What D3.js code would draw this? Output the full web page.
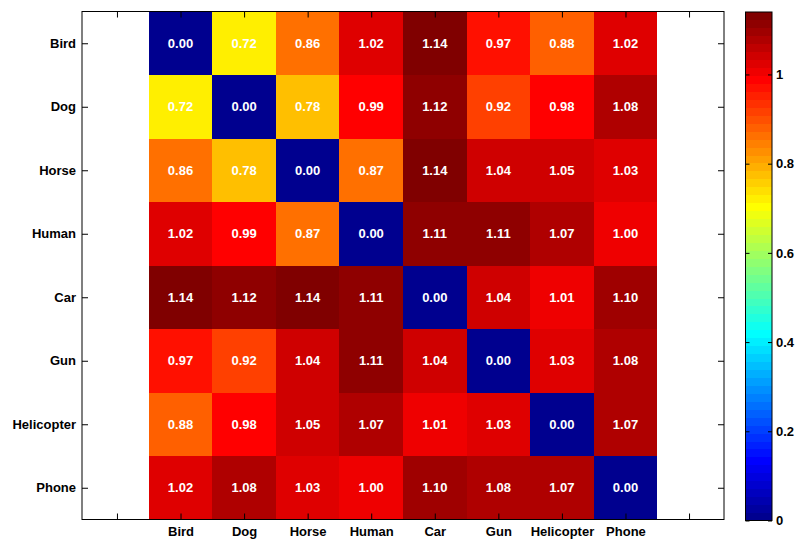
<!DOCTYPE html>
<html>
<head>
<meta charset="utf-8">
<script src="https://cdn.jsdelivr.net/npm/d3@7"></script>
<style>
  html, body { margin: 0; padding: 0; background: #fff; }
  svg { display: block; }
  text { font-family: "Liberation Sans", Arial, sans-serif; font-weight: bold; }
</style>
</head>
<body>
<svg id="chart" width="795" height="540"></svg>
<script>
// Categories (rows and columns share the same order)
const categories = ["Bird", "Dog", "Horse", "Human", "Car", "Gun", "Helicopter", "Phone"];

// Pairwise distance matrix, one array per row
const rowBird       = [0.00, 0.72, 0.86, 1.02, 1.14, 0.97, 0.88, 1.02];
const rowDog        = [0.72, 0.00, 0.78, 0.99, 1.12, 0.92, 0.98, 1.08];
const rowHorse      = [0.86, 0.78, 0.00, 0.87, 1.14, 1.04, 1.05, 1.03];
const rowHuman      = [1.02, 0.99, 0.87, 0.00, 1.11, 1.11, 1.07, 1.00];
const rowCar        = [1.14, 1.12, 1.14, 1.11, 0.00, 1.04, 1.01, 1.10];
const rowGun        = [0.97, 0.92, 1.04, 1.11, 1.04, 0.00, 1.03, 1.08];
const rowHelicopter = [0.88, 0.98, 1.05, 1.07, 1.01, 1.03, 0.00, 1.07];
const rowPhone      = [1.02, 1.08, 1.03, 1.00, 1.10, 1.08, 1.07, 0.00];
const matrix = [rowBird, rowDog, rowHorse, rowHuman, rowCar, rowGun, rowHelicopter, rowPhone];

// Colour limits and colourbar ticks
const colorMin = 0;
const colorMax = 1.14;
const colorbarTicks = [0, 0.2, 0.4, 0.6, 0.8, 1];
const colorbarTickLabels = ["0", "0.2", "0.4", "0.6", "0.8", "1"];

// Axis ticks (positions 0..9, labels only on category positions)
const xTickValues = [0, 1, 2, 3, 4, 5, 6, 7, 8, 9];
const yTickValues = [1, 2, 3, 4, 5, 6, 7, 8];

// 64-step "jet" colormap
function jet(m) {
  const n = Math.ceil(m / 4);
  const u = [];
  for (let k = 1; k <= n; k++) u.push(k / n);
  for (let k = 1; k < n; k++) u.push(1);
  for (let k = n; k >= 1; k--) u.push(k / n);
  const shift = Math.ceil(n / 2) - (m % 4 === 1 ? 1 : 0);
  const map = Array.from({ length: m }, () => [0, 0, 0]);
  u.forEach((v, idx) => {
    const k = idx + 1;
    const g = shift + k, r = g + n, b = g - n;
    if (r >= 1 && r <= m) map[r - 1][0] = v;
    if (g >= 1 && g <= m) map[g - 1][1] = v;
    if (b >= 1 && b <= m) map[b - 1][2] = v;
  });
  return map.map(c => d3.rgb(c[0] * 255, c[1] * 255, c[2] * 255).formatHex());
}
const cmap = jet(64);
function colorFor(v) {
  let i = Math.floor((v - colorMin) / (colorMax - colorMin) * cmap.length);
  i = Math.max(0, Math.min(cmap.length - 1, i));
  return cmap[i];
}

const svg = d3.select("#chart");

// Plot frame
const frame = { left: 82, right: 724, top: 11.5, bottom: 519.5 };
const x = d3.scaleLinear().domain([-0.55, 9.55]).range([frame.left, frame.right]);
const y = d3.scaleLinear().domain([0.5, 8.5]).range([frame.top, frame.bottom]);

// Heatmap cells
const cells = [];
matrix.forEach((row, r) => row.forEach((v, c) => cells.push({ r, c, v })));

svg.append("g").selectAll("rect").data(cells).join("rect")
  .attr("x", d => x(d.c + 0.5))
  .attr("y", d => y(d.r + 0.5))
  .attr("width", d => x(d.c + 1.5) - x(d.c + 0.5))
  .attr("height", d => y(d.r + 1.5) - y(d.r + 0.5))
  .attr("fill", d => colorFor(d.v))
  .attr("shape-rendering", "crispEdges");

svg.append("g").selectAll("text").data(cells).join("text")
  .attr("x", d => x(d.c + 1))
  .attr("y", d => y(d.r + 1))
  .attr("dy", "0.35em")
  .attr("text-anchor", "middle")
  .attr("fill", "#fff")
  .attr("font-size", 13)
  .text(d => d.v.toFixed(2));

// Axes with inward ticks on all four sides
const tickLen = 6;
const styleAxis = g => {
  g.select(".domain").remove();
  g.selectAll("line").attr("stroke", "#000");
  g.selectAll("text").attr("font-size", 13).attr("fill", "#000");
};

svg.append("g")
  .attr("transform", `translate(0,${frame.bottom})`)
  .call(d3.axisBottom(x).tickValues(xTickValues)
    .tickFormat(d => (d >= 1 && d <= categories.length) ? categories[d - 1] : "")
    .tickSizeInner(-tickLen).tickSizeOuter(0).tickPadding(7))
  .call(styleAxis);

svg.append("g")
  .attr("transform", `translate(0,${frame.top})`)
  .call(d3.axisTop(x).tickValues(xTickValues).tickFormat("")
    .tickSizeInner(-tickLen).tickSizeOuter(0))
  .call(styleAxis);

svg.append("g")
  .attr("transform", `translate(${frame.left},0)`)
  .call(d3.axisLeft(y).tickValues(yTickValues)
    .tickFormat(d => categories[d - 1])
    .tickSizeInner(-tickLen).tickSizeOuter(0).tickPadding(6))
  .call(styleAxis);

svg.append("g")
  .attr("transform", `translate(${frame.right},0)`)
  .call(d3.axisRight(y).tickValues(yTickValues).tickFormat("")
    .tickSizeInner(-tickLen).tickSizeOuter(0))
  .call(styleAxis);

svg.append("rect")
  .attr("x", frame.left).attr("y", frame.top)
  .attr("width", frame.right - frame.left).attr("height", frame.bottom - frame.top)
  .attr("fill", "none").attr("stroke", "#000").attr("stroke-width", 1);

// Colourbar
const cb = { left: 745.5, right: 772, top: 12, bottom: 520.5 };
const cy = d3.scaleLinear().domain([colorMin, colorMax]).range([cb.bottom, cb.top]);
const bandStep = (colorMax - colorMin) / cmap.length;

svg.append("g").selectAll("rect").data(cmap).join("rect")
  .attr("x", cb.left)
  .attr("y", (c, i) => cy(colorMin + (i + 1) * bandStep))
  .attr("width", cb.right - cb.left)
  .attr("height", (c, i) => cy(colorMin + i * bandStep) - cy(colorMin + (i + 1) * bandStep) + 0.5)
  .attr("fill", c => c)
  .attr("shape-rendering", "crispEdges");

svg.append("g")
  .attr("transform", `translate(${cb.right},0)`)
  .call(d3.axisRight(cy).tickValues(colorbarTicks)
    .tickFormat((d, i) => colorbarTickLabels[i])
    .tickSizeInner(-4).tickSizeOuter(0).tickPadding(4))
  .call(styleAxis);

svg.append("g")
  .attr("transform", `translate(${cb.left},0)`)
  .call(d3.axisLeft(cy).tickValues(colorbarTicks).tickFormat("")
    .tickSizeInner(-4).tickSizeOuter(0))
  .call(styleAxis);

svg.append("rect")
  .attr("x", cb.left).attr("y", cb.top)
  .attr("width", cb.right - cb.left).attr("height", cb.bottom - cb.top)
  .attr("fill", "none").attr("stroke", "#000").attr("stroke-width", 1);
</script>
</body>
</html>
